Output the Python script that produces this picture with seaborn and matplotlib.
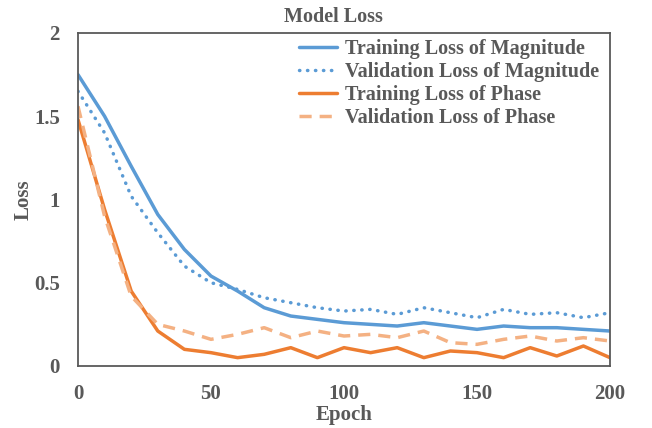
import numpy as np
import pandas as pd
import matplotlib
matplotlib.use("Agg")
import matplotlib.pyplot as plt
import seaborn as sns

epochs = list(range(0, 201, 10))
train_mag = [1.75, 1.50, 1.20, 0.91, 0.70, 0.54, 0.45, 0.35, 0.30, 0.28, 0.26,
             0.25, 0.24, 0.26, 0.24, 0.22, 0.24, 0.23, 0.23, 0.22, 0.21]
val_mag = [1.65, 1.40, 1.02, 0.80, 0.60, 0.50, 0.46, 0.41, 0.38, 0.35, 0.33,
           0.34, 0.31, 0.35, 0.32, 0.29, 0.34, 0.31, 0.32, 0.29, 0.32]
train_phase = [1.48, 0.94, 0.45, 0.21, 0.10, 0.08, 0.05, 0.07, 0.11, 0.05, 0.11,
               0.08, 0.11, 0.05, 0.09, 0.08, 0.05, 0.11, 0.06, 0.12, 0.05]
val_phase = [1.56, 0.90, 0.42, 0.25, 0.21, 0.16, 0.19, 0.23, 0.17, 0.21, 0.18,
             0.19, 0.17, 0.21, 0.14, 0.13, 0.16, 0.18, 0.15, 0.17, 0.15]

df = pd.DataFrame({"epoch": epochs, "tm": train_mag, "vm": val_mag,
                   "tp": train_phase, "vp": val_phase})

sns.set_style("white")
plt.rcParams["font.family"] = ["Liberation Serif", "DejaVu Serif"]
plt.rcParams["font.weight"] = "bold"
grey = "#595959"

fig = plt.figure(figsize=(6.52, 4.28), dpi=100)
ax = fig.add_axes([0.1196, 0.1449, 0.816, 0.7780])

sns.lineplot(data=df, x="epoch", y="tm", ax=ax, color="#5B9BD5", lw=2.5,
             label="Training Loss of Magnitude")
sns.lineplot(data=df, x="epoch", y="vm", ax=ax, color="#5B9BD5", lw=2.5,
             label="Validation Loss of Magnitude")
sns.lineplot(data=df, x="epoch", y="tp", ax=ax, color="#ED7D31", lw=2.5,
             label="Training Loss of Phase")
sns.lineplot(data=df, x="epoch", y="vp", ax=ax, color="#F4B183", lw=2.5,
             label="Validation Loss of Phase")
ax.lines[1].set_linestyle((0, (0.1, 2.2)))
ax.lines[1].set_dash_capstyle("round")
ax.lines[3].set_linestyle((0, (3.5, 2.3)))

ax.set_xlim(0, 200)
ax.set_ylim(0, 2)
ax.set_xticks([0, 50, 100, 150, 200])
ax.set_yticks([0, 0.5, 1, 1.5, 2])
ax.set_yticklabels(["0", "0.5", "1", "1.5", "2"])
ax.tick_params(labelsize=15, colors=grey, length=0)
ax.tick_params(axis="x", pad=13)
ax.tick_params(axis="y", pad=13)
for lab in ax.get_xticklabels() + ax.get_yticklabels():
    lab.set_fontweight("bold")
for s in ax.spines.values():
    s.set_color(grey)
    s.set_linewidth(1.3)

ax.set_xlabel("Epoch", fontsize=15, fontweight="bold", color=grey, labelpad=1)
ax.set_ylabel("Loss", fontsize=15, fontweight="bold", color=grey, labelpad=0)
fig.text(0.512, 0.96, "Model Loss", ha="center", va="center",
         fontsize=14.5, fontweight="bold", color=grey)

leg = ax.legend(loc="upper right", frameon=False, fontsize=14.5,
                handlelength=1.9, handletextpad=0.35, labelspacing=0.15,
                borderaxespad=0.2, borderpad=0.1, bbox_to_anchor=(0.99, 1.0))
for t in leg.get_texts():
    t.set_color(grey)
    t.set_fontweight("bold")

fig.savefig("out.png", dpi=100)
